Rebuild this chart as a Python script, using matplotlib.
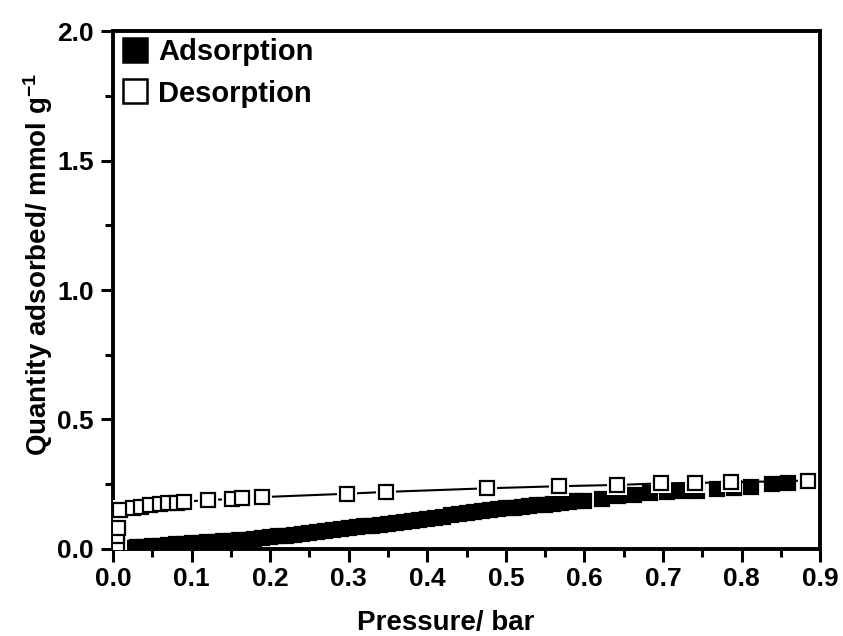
import matplotlib
matplotlib.use("Agg")
import matplotlib.pyplot as plt
from matplotlib.lines import Line2D
from matplotlib.ticker import MultipleLocator, FormatStrFormatter

# adsorption branch (filled squares)
ads_p = [0.005, 0.01, 0.02, 0.03, 0.04, 0.05, 0.06, 0.07, 0.08, 0.09,
         0.10, 0.11, 0.12, 0.13, 0.14, 0.15, 0.16, 0.17, 0.18, 0.19,
         0.20, 0.21, 0.22, 0.23, 0.24, 0.25, 0.26, 0.27, 0.28, 0.29,
         0.30, 0.31, 0.32, 0.33, 0.34, 0.35, 0.36, 0.37, 0.38, 0.39,
         0.40, 0.41, 0.42, 0.43, 0.44, 0.45, 0.46, 0.47, 0.48, 0.49,
         0.50, 0.51, 0.52, 0.53, 0.54, 0.55, 0.56, 0.57, 0.58, 0.59,
         0.600, 0.622, 0.643, 0.663, 0.684, 0.705, 0.724, 0.743, 0.768,
         0.790, 0.812, 0.838, 0.859]
ads_q = [0.002, 0.003, 0.005, 0.007, 0.009, 0.011, 0.013, 0.015, 0.017, 0.019,
         0.021, 0.023, 0.025, 0.027, 0.029, 0.031, 0.033, 0.036, 0.039, 0.042,
         0.045, 0.048, 0.051, 0.055, 0.058, 0.062, 0.065, 0.069, 0.073, 0.077,
         0.080, 0.084, 0.087, 0.090, 0.093, 0.097, 0.101, 0.105, 0.109, 0.113,
         0.117, 0.121, 0.125, 0.129, 0.133, 0.138, 0.142, 0.146, 0.150, 0.153,
         0.156, 0.159, 0.162, 0.165, 0.168, 0.171, 0.174, 0.177, 0.180, 0.183,
         0.186, 0.193, 0.205, 0.210, 0.215, 0.218, 0.223, 0.225, 0.230,
         0.235, 0.240, 0.250, 0.255]

# desorption branch (open squares joined by a line)
des_p = [0.005, 0.005, 0.006, 0.009, 0.025, 0.036, 0.047, 0.060, 0.070, 0.081,
         0.091, 0.121, 0.151, 0.164, 0.190, 0.298, 0.347, 0.476, 0.567, 0.642,
         0.697, 0.741, 0.787, 0.884]
des_q = [0.010, 0.050, 0.080, 0.150, 0.157, 0.163, 0.168, 0.172, 0.176, 0.179,
         0.182, 0.189, 0.192, 0.195, 0.200, 0.213, 0.220, 0.234, 0.242, 0.247,
         0.253, 0.255, 0.257, 0.264]

plt.rcParams['font.family'] = ['Liberation Sans', 'DejaVu Sans']
plt.rcParams['font.weight'] = 'bold'
plt.rcParams['mathtext.fontset'] = 'custom'
plt.rcParams['mathtext.rm'] = 'Liberation Sans:bold'
plt.rcParams['mathtext.bf'] = 'Liberation Sans:bold'
plt.rcParams['mathtext.default'] = 'bf'

fig = plt.figure(figsize=(8.43, 6.36), dpi=100)
ax = fig.add_axes([0.134, 0.137, 0.839, 0.814])

ms = 9.5
ax.plot(ads_p, ads_q, ls='none', marker='s', ms=ms, mfc='black', mec='black',
        mew=1.6, zorder=3)
# line first, then a white pad under each open square so the line stops short
ax.plot(des_p, des_q, ls='-', lw=1.5, color='black', zorder=4)
ax.plot(des_p, des_q, ls='none', marker='s', ms=ms + 5, mfc='white', mec='white',
        mew=0, zorder=5)
ax.plot(des_p, des_q, ls='none', marker='s', ms=ms, mfc='white', mec='black',
        mew=1.6, zorder=6)

ax.set_xlim(0, 0.9)
ax.set_ylim(0, 2.0)
ax.xaxis.set_major_locator(MultipleLocator(0.1))
ax.xaxis.set_minor_locator(MultipleLocator(0.05))
ax.yaxis.set_major_locator(MultipleLocator(0.5))
ax.yaxis.set_minor_locator(MultipleLocator(0.25))
ax.xaxis.set_major_formatter(FormatStrFormatter('%.1f'))
ax.yaxis.set_major_formatter(FormatStrFormatter('%.1f'))

for s in ax.spines.values():
    s.set_linewidth(2.8)
ax.tick_params(which='major', direction='out', length=9, width=2.2, labelsize=19,
               top=False, right=False)
ax.tick_params(axis='x', which='major', pad=4)
ax.tick_params(axis='y', which='major', pad=5)
ax.tick_params(which='minor', direction='out', length=5.5, width=2.2,
               top=False, right=False)

ax.set_xlabel('Pressure/ bar', fontsize=20, fontweight='bold')
ax.set_ylabel('Quantity adsorbed/ mmol g$^{-1}$', fontsize=20, fontweight='bold')
ax.xaxis.set_label_coords(0.47, -0.118)
ax.yaxis.set_label_coords(-0.082, 0.549)

handles = [
    Line2D([], [], ls='none', marker='s', ms=17.5, mfc='black', mec='black', mew=1.8),
    Line2D([], [], ls='none', marker='s', ms=17.5, mfc='white', mec='black', mew=1.8),
]
ax.legend(handles, ['Adsorption', 'Desorption'], loc='upper left', frameon=False,
          handlelength=1.0, handletextpad=0.3, labelspacing=0.45,
          borderaxespad=0.15, borderpad=0.1, prop={'weight': 'bold', 'size': 21})

fig.savefig('out.png', dpi=100)
